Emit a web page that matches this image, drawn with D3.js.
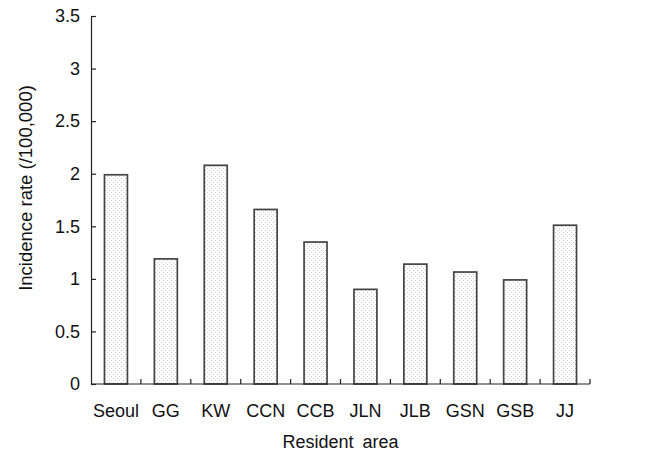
<!DOCTYPE html>
<html>
<head>
<meta charset="utf-8">
<script src="https://cdn.jsdelivr.net/npm/d3@7"></script>
<style>
  body { margin: 0; background: #fff; }
  text { font-family: "Liberation Sans", Arial, sans-serif; fill: #111; }
</style>
</head>
<body>
<svg id="chart" width="663" height="455"></svg>
<script>
// data
const areas = ["Seoul", "GG", "KW", "CCN", "CCB", "JLN", "JLB", "GSN", "GSB", "JJ"];
const rates = [1.99, 1.19, 2.08, 1.66, 1.35, 0.90, 1.14, 1.065, 0.99, 1.51];
const yTicks = [0, 0.5, 1, 1.5, 2, 2.5, 3, 3.5];

const svg = d3.select("#chart");
const margin = { left: 91, right: 73, top: 16, bottom: 71 };
const width = 663 - margin.left - margin.right;
const height = 455 - margin.top - margin.bottom;

// dotted fill like the original
const pat = svg.append("defs").append("pattern")
    .attr("id", "dots")
    .attr("patternUnits", "userSpaceOnUse")
    .attr("width", 4).attr("height", 4);
pat.append("rect").attr("width", 4).attr("height", 4).attr("fill", "#fff");
pat.append("rect").attr("x", 0).attr("y", 0).attr("width", 1).attr("height", 1).attr("fill", "#cccccc");
pat.append("rect").attr("x", 2).attr("y", 2).attr("width", 1).attr("height", 1).attr("fill", "#cccccc");

const g = svg.append("g").attr("transform", `translate(${margin.left},${margin.top})`);

const x = d3.scaleBand().domain(areas).range([0, width]).paddingInner(0.54).paddingOuter(0.27);
const y = d3.scaleLinear().domain([0, 3.5]).range([height, 0]);

// bars
g.selectAll(".bar")
    .data(areas)
    .enter().append("rect")
    .attr("class", "bar")
    .attr("x", d => x(d))
    .attr("width", x.bandwidth())
    .attr("y", (d, i) => y(rates[i]))
    .attr("height", (d, i) => y(0) - y(rates[i]))
    .attr("fill", "url(#dots)")
    .attr("stroke", "#444")
    .attr("stroke-width", 1.7);

// y axis, ticks point inward
const yAxis = g.append("g")
    .call(d3.axisLeft(y).tickValues(yTicks).tickFormat(d => d).tickSizeInner(-5).tickSizeOuter(0).tickPadding(11));
yAxis.select(".domain").attr("stroke", "#222").attr("stroke-width", 1.2);
yAxis.selectAll(".tick line").attr("stroke", "#222").attr("stroke-width", 1.2);
yAxis.selectAll("text").style("font-size", "18px").style("font-family", "Liberation Sans, Arial, sans-serif").style("fill", "#111");

// x axis with small ticks between the categories
const step = x.step();
const xAxis = g.append("g").attr("transform", `translate(0,${height})`);
xAxis.append("line")
    .attr("x1", 0).attr("x2", width)
    .attr("stroke", "#222").attr("stroke-width", 1.2);
xAxis.selectAll(".sep")
    .data(areas)
    .enter().append("line")
    .attr("x1", (d, i) => (i + 1) * step)
    .attr("x2", (d, i) => (i + 1) * step)
    .attr("y1", 0).attr("y2", -5)
    .attr("stroke", "#222").attr("stroke-width", 1.2);
xAxis.selectAll(".lbl")
    .data(areas)
    .enter().append("text")
    .attr("x", d => x(d) + x.bandwidth() / 2)
    .attr("y", 33)
    .attr("text-anchor", "middle")
    .style("font-size", "18px")
    .text(d => d);

// axis titles
svg.append("text")
    .attr("x", margin.left + width / 2)
    .attr("y", 448)
    .attr("text-anchor", "middle")
    .style("font-size", "18px")
    .style("word-spacing", "4px")
    .text("Resident area");

svg.append("text")
    .attr("transform", `translate(32,188) rotate(-90)`)
    .attr("text-anchor", "middle")
    .style("font-size", "18.5px")
    .text("Incidence rate (/100,000)");
</script>
</body>
</html>
